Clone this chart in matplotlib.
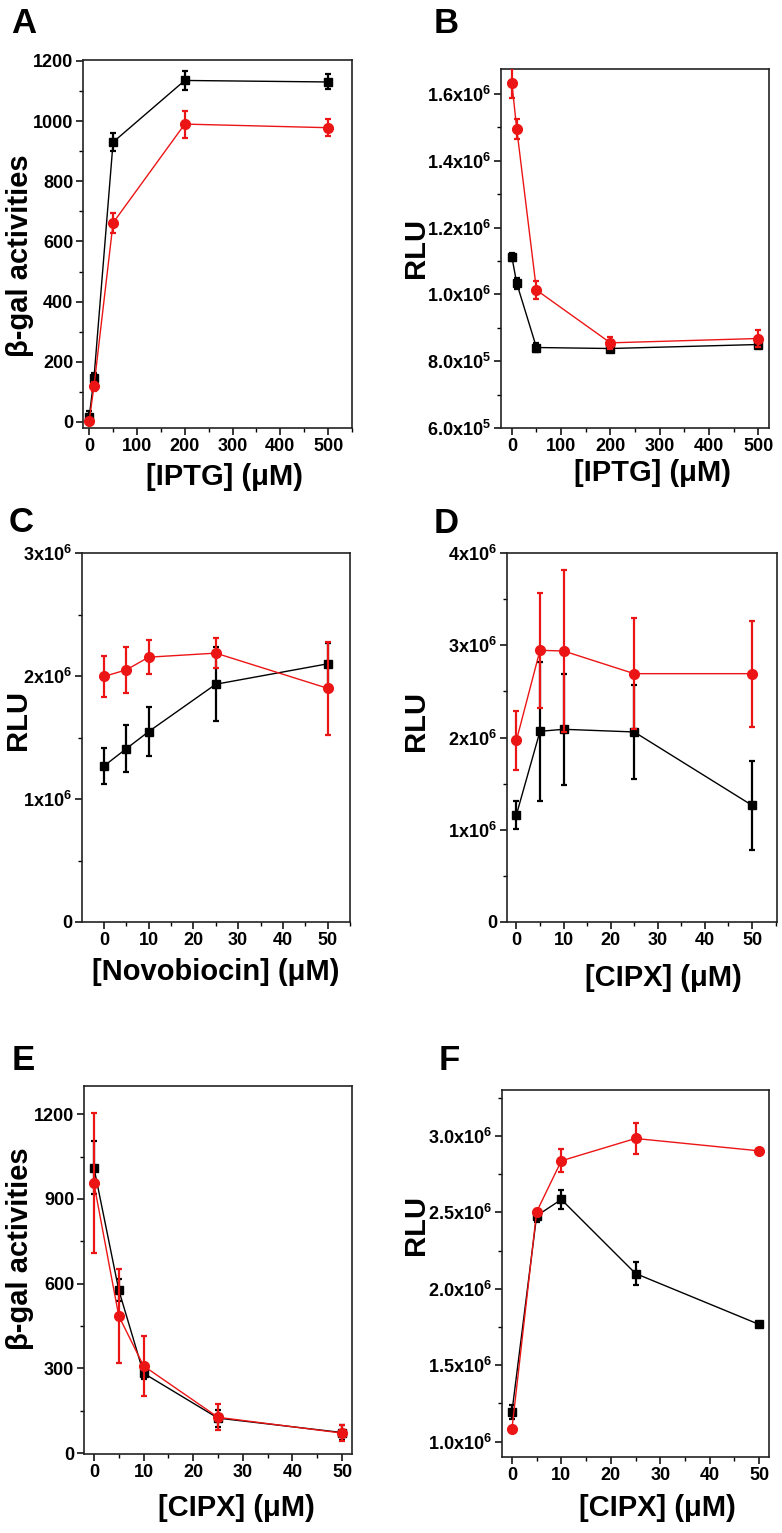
import matplotlib
matplotlib.use('Agg')
import matplotlib.pyplot as plt
from matplotlib.ticker import MultipleLocator, FixedLocator

plt.rcParams['font.family'] = ['Liberation Sans', 'DejaVu Sans']
plt.rcParams['font.weight'] = 'bold'
plt.rcParams['mathtext.fontset'] = 'custom'
plt.rcParams['mathtext.rm'] = 'Liberation Sans:bold'
plt.rcParams['mathtext.it'] = 'Liberation Sans:bold'
plt.rcParams['mathtext.bf'] = 'Liberation Sans:bold'

# ---------------- data ----------------
iptg_x = [0, 10, 50, 200, 500]
cipx_x = [0, 5, 10, 25, 50]

A_black = [17, 146, 930, 1135, 1130]
A_black_err = [20, 18, 30, 31, 25]
A_red = [4, 119, 662, 990, 978]
A_red_err = [8, 15, 33, 45, 29]

B_black = [1.113e6, 1.033e6, 0.841e6, 0.838e6, 0.850e6]
B_black_err = [0.012e6, 0.016e6, 0.013e6, 0.010e6, 0.010e6]
B_red = [1.634e6, 1.495e6, 1.013e6, 0.855e6, 0.868e6]
B_red_err = [0.045e6, 0.030e6, 0.026e6, 0.018e6, 0.026e6]

C_black = [1.268e6, 1.409e6, 1.548e6, 1.933e6, 2.099e6]
C_black_err = [0.15e6, 0.19e6, 0.20e6, 0.30e6, 0.17e6]
C_red = [1.996e6, 2.050e6, 2.153e6, 2.186e6, 1.900e6]
C_red_err = [0.165e6, 0.185e6, 0.14e6, 0.125e6, 0.38e6]

D_black = [1.163e6, 2.067e6, 2.089e6, 2.060e6, 1.265e6]
D_black_err = [0.15e6, 0.75e6, 0.60e6, 0.51e6, 0.48e6]
D_red = [1.969e6, 2.945e6, 2.938e6, 2.692e6, 2.692e6]
D_red_err = [0.32e6, 0.62e6, 0.88e6, 0.60e6, 0.575e6]

E_black = [1011, 578, 283, 124, 73]
E_black_err = [94, 38, 20, 30, 25]
E_red = [955, 486, 309, 127, 71]
E_red_err = [248, 166, 106, 46, 28]

F_black = [1.192e6, 2.477e6, 2.584e6, 2.100e6, 1.767e6]
F_black_err = [0.045e6, 0.040e6, 0.065e6, 0.075e6, 0.010e6]
F_red = [1.081e6, 2.503e6, 2.837e6, 2.983e6, 2.902e6]
F_red_err = [0.010e6, 0.020e6, 0.075e6, 0.100e6, 0.015e6]

B_yticks = [6e5, 8e5, 1.0e6, 1.2e6, 1.4e6, 1.6e6]
B_ylabels = [r'6.0x10$^{5}$', r'8.0x10$^{5}$', r'1.0x10$^{6}$', r'1.2x10$^{6}$',
             r'1.4x10$^{6}$', r'1.6x10$^{6}$']
C_yticks = [0, 1e6, 2e6, 3e6]
C_ylabels = ['0', r'1x10$^{6}$', r'2x10$^{6}$', r'3x10$^{6}$']
D_yticks = [0, 1e6, 2e6, 3e6, 4e6]
D_ylabels = ['0', r'1x10$^{6}$', r'2x10$^{6}$', r'3x10$^{6}$', r'4x10$^{6}$']
F_yticks = [1.0e6, 1.5e6, 2.0e6, 2.5e6, 3.0e6]
F_ylabels = [r'1.0x10$^{6}$', r'1.5x10$^{6}$', r'2.0x10$^{6}$', r'2.5x10$^{6}$', r'3.0x10$^{6}$']

W, H = 782, 1533
fig = plt.figure(figsize=(W / 100, H / 100), dpi=100)


def add_ax(l, t, r, b):
    return fig.add_axes([l / W, 1 - b / H, (r - l) / W, (b - t) / H])


def draw(ax, x, yb, eb, yr, er):
    ax.errorbar(x, yb, yerr=eb, color='black', marker='s', markersize=6,
                lw=1, elinewidth=1.6, capsize=2.5, capthick=1.6, zorder=3)
    ax.errorbar(x, yr, yerr=er, color='#ec1515', marker='o', markersize=7,
                lw=1, elinewidth=1.6, capsize=2.5, capthick=1.6, zorder=4)


def style(ax, xlim, ylim, xmaj, xmin, ymaj=None, ymin=None, yticks=None, ylabels=None):
    ax.set_xlim(*xlim)
    ax.set_ylim(*ylim)
    ax.xaxis.set_major_locator(MultipleLocator(xmaj))
    ax.xaxis.set_minor_locator(MultipleLocator(xmin))
    if yticks is not None:
        ax.yaxis.set_major_locator(FixedLocator(yticks))
        ax.set_yticklabels(ylabels)
    else:
        ax.yaxis.set_major_locator(MultipleLocator(ymaj))
    ax.yaxis.set_minor_locator(MultipleLocator(ymin))
    ax.tick_params(which='major', direction='out', length=5, width=1.1,
                   labelsize=13, pad=2, top=False, right=False)
    ax.tick_params(which='minor', direction='out', length=3, width=1.0,
                   top=False, right=False)
    for s in ax.spines.values():
        s.set_linewidth(1.2)
        s.set_color('#222222')
    for lab in ax.get_xticklabels() + ax.get_yticklabels():
        lab.set_fontweight('bold')


def labels(ax, box, xl, xc, yl, yc):
    l, t, r, b = box
    ax.set_xlabel(xl, fontsize=21, fontweight='bold', va='center', ha='center')
    ax.xaxis.set_label_coords((xc[0] - l) / (r - l), (b - xc[1]) / (b - t))
    ax.set_ylabel(yl, fontsize=21, fontweight='bold', va='center', ha='center')
    ax.yaxis.set_label_coords((yc[0] - l) / (r - l), (b - yc[1]) / (b - t))


# Panel A
boxA = (83, 60, 352, 428)
axA = add_ax(*boxA)
draw(axA, iptg_x, A_black, A_black_err, A_red, A_red_err)
style(axA, (-13, 550), (-20, 1203), 100, 50, ymaj=200, ymin=100)
labels(axA, boxA, '[IPTG] (μM)', (224, 477), 'β-gal activities', (20, 256))

# Panel B
boxB = (501, 69, 769, 428)
axB = add_ax(*boxB)
draw(axB, iptg_x, B_black, B_black_err, B_red, B_red_err)
style(axB, (-22, 522), (6e5, 1.675e6), 100, 50, ymin=1e5, yticks=B_yticks, ylabels=B_ylabels)
labels(axB, boxB, '[IPTG] (μM)', (653, 473), 'RLU', (416, 248))

# Panel C
boxC = (82, 553, 350, 922)
axC = add_ax(*boxC)
draw(axC, cipx_x, C_black, C_black_err, C_red, C_red_err)
style(axC, (-4.9, 55), (0, 3e6), 10, 5, ymin=5e5, yticks=C_yticks, ylabels=C_ylabels)
labels(axC, boxC, '[Novobiocin] (μM)', (216, 972), 'RLU', (18, 720))

# Panel D
boxD = (507, 553, 777, 922)
axD = add_ax(*boxD)
draw(axD, cipx_x, D_black, D_black_err, D_red, D_red_err)
style(axD, (-2, 55.3), (0, 4e6), 10, 5, ymin=5e5, yticks=D_yticks, ylabels=D_ylabels)
labels(axD, boxD, '[CIPX] (μM)', (663, 978), 'RLU', (416, 721))

# Panel E
boxE = (84, 1086, 352, 1454)
axE = add_ax(*boxE)
draw(axE, cipx_x, E_black, E_black_err, E_red, E_red_err)
style(axE, (-2, 52), (-3, 1300), 10, 5, ymaj=300, ymin=150)
labels(axE, boxE, '[CIPX] (μM)', (236, 1508), 'β-gal activities', (20, 1249))

# Panel F
boxF = (502, 1090, 769, 1457)
axF = add_ax(*boxF)
draw(axF, cipx_x, F_black, F_black_err, F_red, F_red_err)
style(axF, (-2, 52), (0.9e6, 3.3e6), 10, 5, ymin=2.5e5, yticks=F_yticks, ylabels=F_ylabels)
labels(axF, boxF, '[CIPX] (μM)', (657, 1508), 'RLU', (416, 1225))

# panel letters
for letter, x, y in [('A', 11, 33), ('B', 434, 33), ('C', 9, 532),
                     ('D', 434, 533), ('E', 12, 1070), ('F', 439, 1070)]:
    fig.text(x / W, 1 - y / H, letter, fontsize=25, fontweight='bold',
             ha='left', va='baseline')

fig.savefig('out.png', dpi=100)
